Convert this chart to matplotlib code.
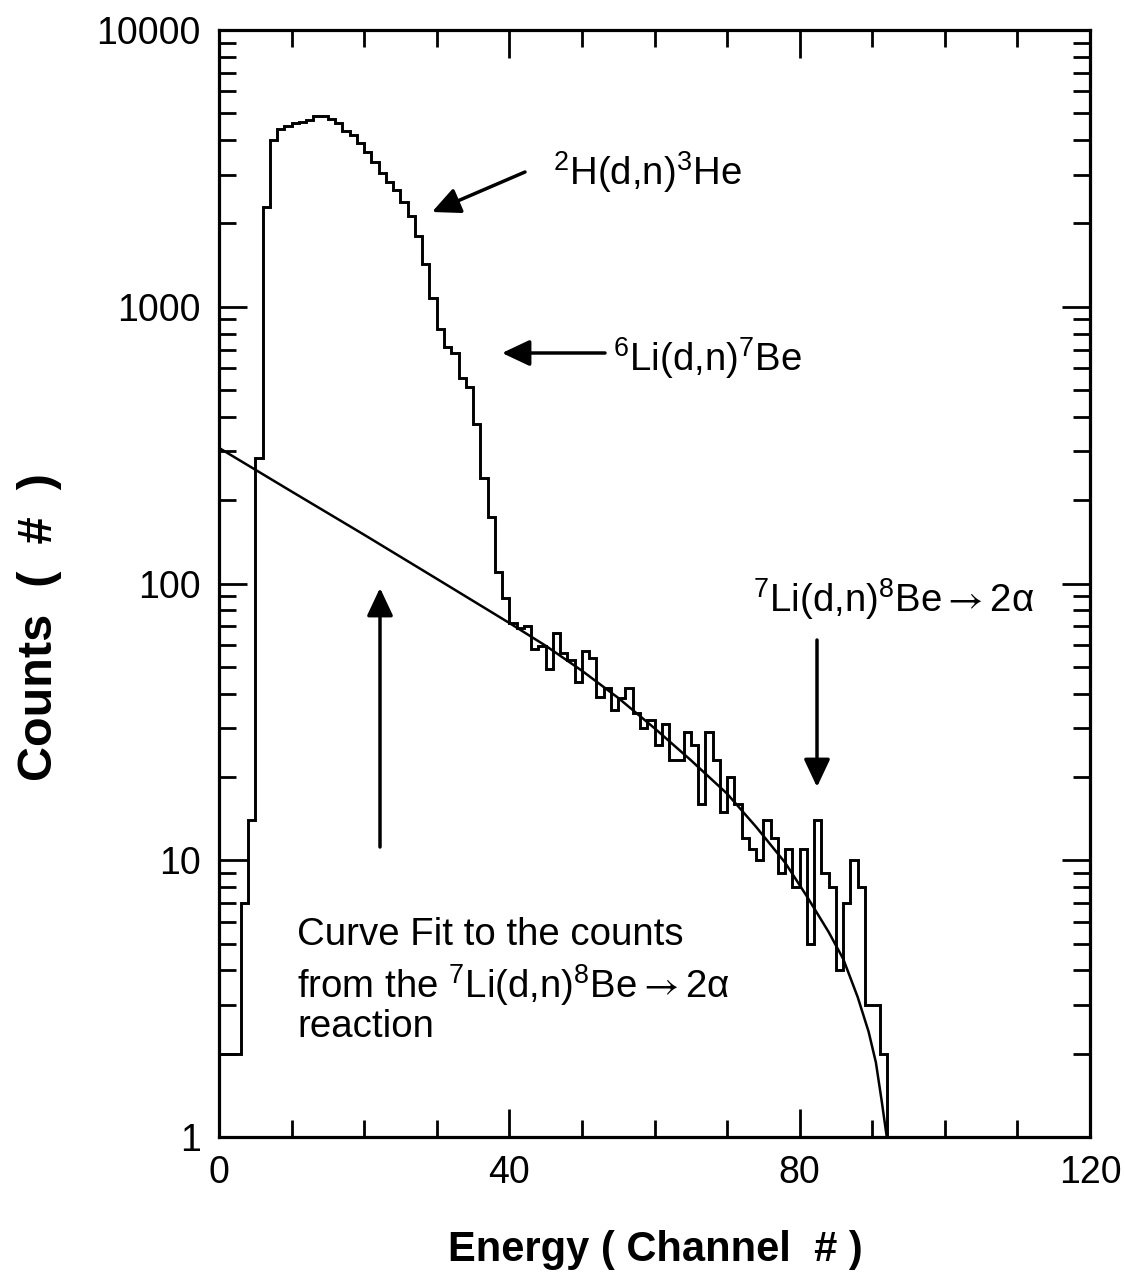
import numpy as np
import matplotlib
matplotlib.use("Agg")
import matplotlib.pyplot as plt
from matplotlib.ticker import FixedLocator, NullFormatter

plt.rcParams['font.family'] = ['Liberation Sans', 'DejaVu Sans']
plt.rcParams['mathtext.fontset'] = 'custom'
plt.rcParams['mathtext.rm'] = 'Liberation Sans'
plt.rcParams['mathtext.it'] = 'Liberation Sans:italic'
plt.rcParams['mathtext.bf'] = 'Liberation Sans:bold'
plt.rcParams['mathtext.sf'] = 'STIXGeneral'

# ---- data ----
counts = [2, 2, 2, 7, 14, 285, 2300, 4000, 4400, 4500,
          4600, 4650, 4730, 4890, 4890, 4760, 4620, 4300, 4170, 3920,
          3610, 3340, 3050, 2830, 2640, 2400, 2130, 1800, 1430, 1075,
          830, 718, 680, 551, 512, 377, 240, 174, 110, 89,
          72, 69, 70, 58, 59.5, 49, 66, 56, 53, 44,
          57, 54, 39, 42, 35, 38.5, 42, 34, 30, 32,
          26, 31, 23, 23, 29, 26, 16, 29, 23, 15,
          20, 16, 12, 11, 10, 14, 12, 9, 11, 8,
          11, 5, 14, 9, 8, 4, 7, 10, 8, 3,
          3, 2]
channel_edges = list(range(0, 93))

fit_channel = [0, 10, 20, 30, 40, 45, 50, 55, 60, 65, 70, 74, 78, 81, 84, 86, 88, 89.5, 90.5, 91.3, 92]
fit_counts = [309, 215, 150, 104, 72, 59.6, 48.4, 38.6, 30, 23, 17.4, 13.2, 9.8, 7.4, 5.5, 4.4, 3.2, 2.4, 1.86, 1.35, 1.0]

x_ticks = [0, 40, 80, 120]
x_tick_labels = ['0', '40', '80', '120']
y_ticks = [1, 10, 100, 1000, 10000]
y_tick_labels = ['1', '10', '100', '1000', '10000']

W, H = 1125, 1275
def P(x, y):
    return (x / W, 1 - y / H)

fig = plt.figure(figsize=(W / 100, H / 100), dpi=100)
ax = fig.add_axes([219 / W, 1 - 1137 / H, (1090 - 219) / W, (1137 - 30) / H])

ax.stairs(counts, channel_edges, baseline=1, color='black', lw=2.1)
ax.plot(fit_channel, fit_counts, color='black', lw=1.8)

ax.set_yscale('log')
ax.set_xlim(0, 120)
ax.set_ylim(1, 10000)

ax.xaxis.set_major_locator(FixedLocator(x_ticks))
ax.set_xticklabels(x_tick_labels)
ax.xaxis.set_minor_locator(FixedLocator(np.arange(0, 121, 10)))
ax.yaxis.set_major_locator(FixedLocator(y_ticks))
ax.set_yticklabels(y_tick_labels)
minor_y = [m * 10 ** e for e in range(0, 4) for m in range(2, 10)]
ax.yaxis.set_minor_locator(FixedLocator(minor_y))
ax.yaxis.set_minor_formatter(NullFormatter())

ax.tick_params(which='both', direction='in', top=True, right=True, width=2.0, colors='black')
ax.tick_params(which='major', length=20, labelsize=27, pad=13)
ax.tick_params(which='minor', length=12)
for s in ax.spines.values():
    s.set_linewidth(2.3)

# axis labels
fig.text(*P(655, 1250), 'Energy ( Channel  # )', fontsize=30, fontweight='bold',
         ha='center', va='center')
fig.text(*P(40, 627), 'Counts  (  #  )', fontsize=35, fontweight='bold',
         ha='center', va='center', rotation=90)

# annotations
fs = 27.6
arr = r'$\mathsf{\rightarrow}$'
fig.text(*P(553, 185), r'$^{2}$H(d,n)$^{3}$He', fontsize=fs, ha='left', va='baseline')
fig.text(*P(613, 371), r'$^{6}$Li(d,n)$^{7}$Be', fontsize=fs, ha='left', va='baseline')
fig.text(*P(753, 612), r'$^{7}$Li(d,n)$^{8}$Be' + arr + '2α', fontsize=fs, ha='left', va='baseline')
fig.text(*P(297, 945), 'Curve Fit to the counts', fontsize=fs, ha='left', va='baseline')
fig.text(*P(297, 998), r'from the $^{7}$Li(d,n)$^{8}$Be' + arr + '2α', fontsize=fs, ha='left', va='baseline')
fig.text(*P(297, 1037), 'reaction', fontsize=fs, ha='left', va='baseline')

arrow_props = dict(arrowstyle='-|>,head_length=0.85,head_width=0.4', lw=2.5,
                   color='black', mutation_scale=20, shrinkA=0, shrinkB=0)
def arrow(tail, tip):
    ax.annotate('', xy=P(*tip), xytext=P(*tail), xycoords='figure fraction',
                textcoords='figure fraction', arrowprops=arrow_props)

arrow((525, 172), (432, 212))
arrow((605, 353), (502, 353))
arrow((817, 640), (817, 787))
arrow((380, 847), (380, 588))

fig.savefig('out.png', dpi=100)
